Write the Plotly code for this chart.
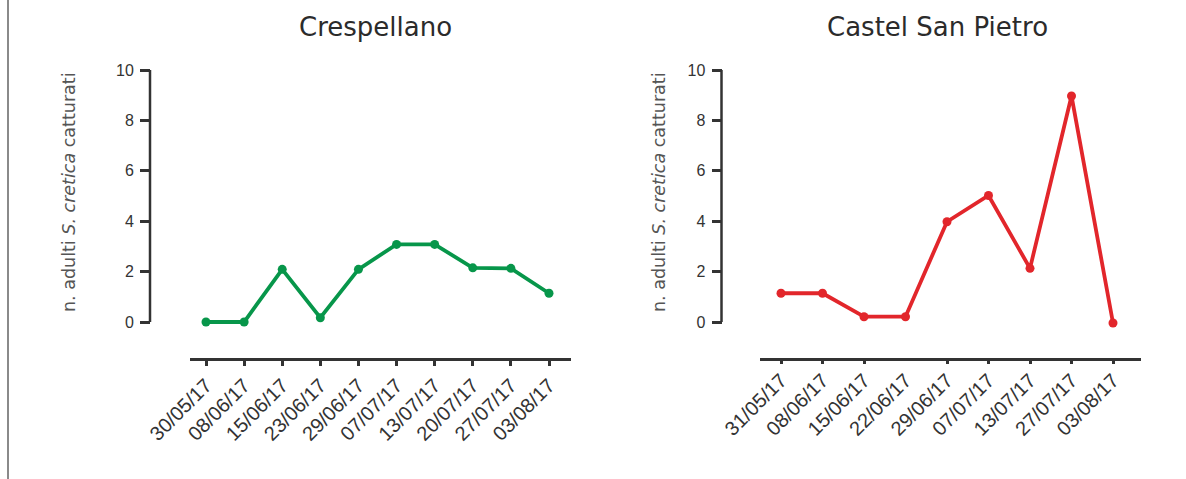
import plotly.graph_objects as go

W, H = 1186, 479


def px(x):
    return x / W


def py(y):
    return 1 - y / H


# ---- data ----
cres_dates = ["30/05/17", "08/06/17", "15/06/17", "23/06/17", "29/06/17",
              "07/07/17", "13/07/17", "20/07/17", "27/07/17", "03/08/17"]
cres_vals = [0, 0, 2.09, 0.17, 2.09, 3.08, 3.08, 2.15, 2.13, 1.14]

csp_dates = ["31/05/17", "08/06/17", "15/06/17", "22/06/17", "29/06/17",
             "07/07/17", "13/07/17", "27/07/17", "03/08/17"]
csp_vals = [1.14, 1.14, 0.21, 0.21, 3.98, 5.02, 2.13, 8.97, -0.04]
csp_tick_idx = [0, 1, 2, 4, 5, 6, 7, 8]  # 22/06/17 has no tick mark

y_ticks = [0, 2, 4, 6, 8, 10]

GREEN = "#07964a"
RED = "#e2262b"
AX = "#333333"
FONT = "Liberation Sans"

fig = go.Figure()

fig.add_trace(go.Scatter(
    x=list(range(len(cres_dates))), y=cres_vals, mode="lines+markers",
    line=dict(color=GREEN, width=3.8), marker=dict(color=GREEN, size=9),
    xaxis="x", yaxis="y", cliponaxis=False, showlegend=False))
fig.add_trace(go.Scatter(
    x=list(range(len(csp_dates))), y=csp_vals, mode="lines+markers",
    line=dict(color=RED, width=3.8), marker=dict(color=RED, size=9),
    xaxis="x2", yaxis="y2", cliponaxis=False, showlegend=False))
# empty trace so the tick-only overlay axis is drawn
fig.add_trace(go.Scatter(x=[], y=[], xaxis="x3", yaxis="y2", showlegend=False))

y_top, y_bot = 70, 358
y0_px = 322
unit = (y0_px - y_top) / 10.0
y_lo = -(y_bot - y0_px) / unit

yax = dict(range=[y_lo, 10], domain=[py(y_bot), py(y_top)], showgrid=False,
           zeroline=False, showline=False, ticks="outside", ticklen=10,
           tickwidth=2.5, tickcolor=AX, tickvals=y_ticks,
           tickfont=dict(family=FONT, size=16, color=AX), anchor="free",
           ticklabelstandoff=3, automargin=False)

# left chart x: idx0 at 206, idx9 at 549, line 190..571
lu = (549 - 206) / 9.0
lx_range = [-(206 - 190) / lu, 9 + (571 - 549) / lu]
# right chart x: idx0 at 781, idx8 at 1113, line 760..1141
ru = (1113 - 781) / 8.0
rx_range = [-(781 - 760) / ru, 8 + (1141 - 1113) / ru]

xcommon = dict(showgrid=False, zeroline=False, showline=True, linewidth=2.5,
               linecolor=AX, tickangle=-45, automargin=False,
               tickfont=dict(family=FONT, size=20, color=AX))

fig.update_layout(
    width=W, height=H, margin=dict(l=0, r=0, t=0, b=0, pad=0),
    autosize=False,
    paper_bgcolor="white", plot_bgcolor="white",
    xaxis=dict(domain=[px(190), px(571)], range=lx_range, anchor="y",
               tickvals=list(range(len(cres_dates))), ticktext=cres_dates,
               ticks="outside", ticklen=5, tickwidth=2.5, tickcolor=AX,
               **xcommon),
    yaxis=dict(position=px(150), **yax),
    xaxis2=dict(domain=[px(760), px(1141)], range=rx_range, anchor="y2",
                tickvals=list(range(len(csp_dates))), ticktext=csp_dates,
                ticks="", **xcommon),
    xaxis3=dict(domain=[px(760), px(1141)], range=rx_range, anchor="y2",
                overlaying="x2", tickvals=csp_tick_idx, showticklabels=False,
                ticks="outside", ticklen=5, tickwidth=2.5, tickcolor=AX,
                showline=False, showgrid=False, zeroline=False,
                automargin=False),
    yaxis2=dict(position=px(721.5), **yax),
    shapes=[
        dict(type="line", xref="paper", yref="y", x0=px(150), x1=px(150),
             y0=0, y1=10, line=dict(color=AX, width=2.5)),
        dict(type="line", xref="paper", yref="y2", x0=px(721.5), x1=px(721.5),
             y0=0, y1=10, line=dict(color=AX, width=2.5)),
        dict(type="line", xref="paper", yref="paper", x0=px(8), x1=px(8),
             y0=0, y1=1, line=dict(color="#8a8a8a", width=2)),
    ],
    annotations=[
        dict(text="Crespellano", xref="paper", yref="paper", x=px(375), y=py(27),
             showarrow=False, xanchor="center", yanchor="middle",
             font=dict(family="DejaVu Sans", size=26, color="#2b2b2b")),
        dict(text="Castel San Pietro", xref="paper", yref="paper", x=px(937),
             y=py(27), showarrow=False, xanchor="center", yanchor="middle",
             font=dict(family="DejaVu Sans", size=26, color="#2b2b2b")),
        dict(text="n. adulti <i>S. cretica</i> catturati", xref="paper",
             yref="paper", x=px(69), y=py(192), textangle=-90, showarrow=False,
             xanchor="center", yanchor="middle",
             font=dict(family="DejaVu Sans", size=17.5, color="#555555")),
        dict(text="n. adulti <i>S. cretica</i> catturati", xref="paper",
             yref="paper", x=px(659), y=py(192), textangle=-90, showarrow=False,
             xanchor="center", yanchor="middle",
             font=dict(family="DejaVu Sans", size=17.5, color="#555555")),
    ],
)

fig.write_html("out.html", config={"displayModeBar": False},
               post_script="document.body.style.margin='0px';")
